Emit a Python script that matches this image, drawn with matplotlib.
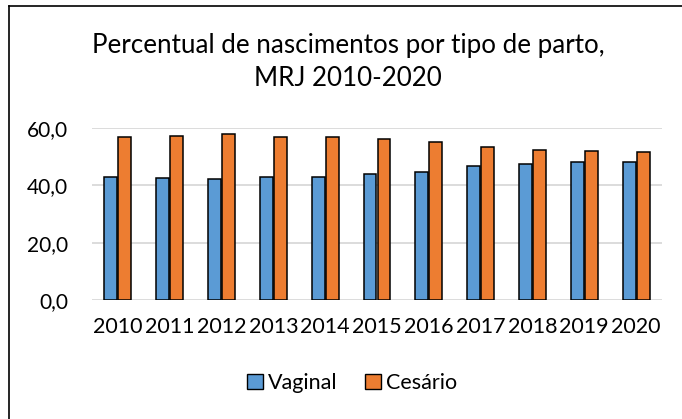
import matplotlib
matplotlib.use('Agg')
import matplotlib.pyplot as plt
from matplotlib.patches import Patch
from matplotlib.lines import Line2D
import numpy as np

anos = ['2010', '2011', '2012', '2013', '2014', '2015', '2016', '2017', '2018', '2019', '2020']
vaginal = [42.8, 42.6, 42.1, 42.8, 42.9, 43.9, 44.8, 46.7, 47.6, 48.0, 48.3]
cesario = [57.0, 57.3, 57.8, 57.0, 57.0, 56.0, 55.1, 53.2, 52.3, 52.0, 51.6]
yticks = [0, 20, 40, 60]
ytick_labels = ['0,0', '20,0', '40,0', '60,0']

plt.rcParams['font.family'] = ['Lato', 'DejaVu Sans']

fig = plt.figure(figsize=(6.82, 4.19), dpi=100)
ax = fig.add_axes([92/682, 1 - 300/419, 570/682, 172/419])

x = np.arange(len(anos))
w = 0.25
ax.bar(x - 0.135, vaginal, w, color='#5B9BD5', edgecolor='black', linewidth=1.1, zorder=3, label='Vaginal')
ax.bar(x + 0.135, cesario, w, color='#ED7D31', edgecolor='black', linewidth=1.1, zorder=3, label='Cesário')

ax.set_xlim(-0.5, len(anos) - 0.5)
ax.set_ylim(0, 60)
ax.set_yticks(yticks)
ax.set_yticklabels(ytick_labels, fontsize=15)
ax.set_xticks(x)
ax.set_xticklabels(anos, fontsize=15.5)
ax.tick_params(length=0)
ax.tick_params(axis='x', pad=12)
ax.tick_params(axis='y', pad=17)
ax.grid(axis='y', color='#D9D9D9', linewidth=1.3, zorder=0)
for s in ax.spines.values():
    s.set_visible(False)

fig.text(348/682, 1 - 62/419, 'Percentual de nascimentos por tipo de parto,\nMRJ 2010-2020',
         ha='center', va='center', fontsize=18.7, linespacing=1.4)

handles = [Patch(facecolor='#5B9BD5', edgecolor='black', label='Vaginal'),
           Patch(facecolor='#ED7D31', edgecolor='black', label='Cesário')]
fig.legend(handles=handles, loc='center', bbox_to_anchor=(352/682, 1 - 383/419), ncol=2,
           frameon=False, fontsize=15.5, handlelength=0.75, handleheight=0.75,
           handletextpad=0.2, columnspacing=1.3)

# borda parcial do quadro
fig.add_artist(Line2D([9/682, 9/682], [0, 1 - 6/419], color='black', linewidth=1.2))
fig.add_artist(Line2D([9/682, 1], [1 - 6/419, 1 - 6/419], color='black', linewidth=1.2))

fig.savefig('out.png', dpi=100)
